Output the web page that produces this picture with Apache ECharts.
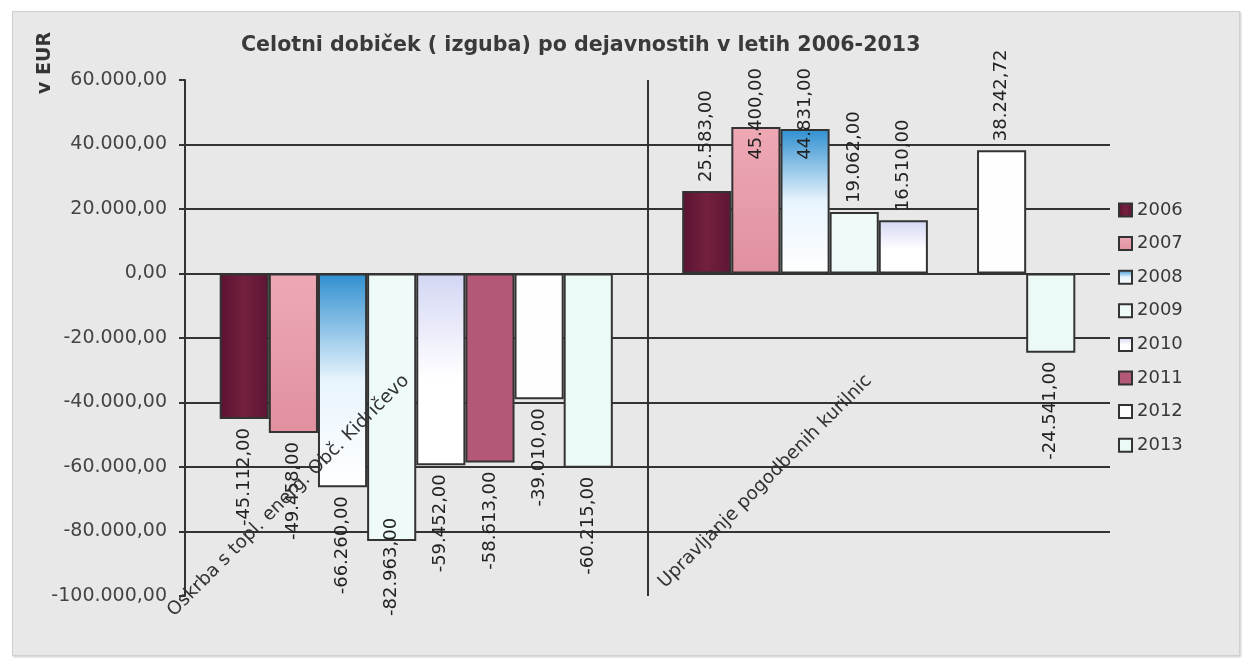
<!DOCTYPE html>
<html><head><meta charset="utf-8">
<script src="https://cdn.jsdelivr.net/npm/echarts@6/dist/echarts.min.js"></script>
<style>
html,body{margin:0;padding:0;background:#fff;}
#wrap{position:relative;width:1250px;height:665px;overflow:hidden;}
#frame{position:absolute;left:12px;top:11px;width:1226px;height:643px;background:#e8e8e8;border:1px solid #d0d0d0;box-shadow:1px 1px 2px #c8c8c8;}
#chart{position:absolute;left:0;top:0;width:1250px;height:665px;}
</style></head><body>
<div id="wrap"><div id="frame"></div><div id="chart"></div></div>
<script>
// ---- data ----
const categories = ['Oskrba s topl. energ. Obč. Kidričevo', 'Upravljanje pogodbenih kurilnic'];
const years = ['2006', '2007', '2008', '2009', '2010', '2011', '2012', '2013'];
const valuesOskrba = [-45112, -49458, -66260, -82963, -59452, -58613, -39010, -60215];
const valuesUpravljanje = [25583, 45400, 44831, 19062, 16510, null, 38242.72, -24541];
const yMin = -100000;
const yMax = 60000;
const yStep = 20000;
const titleText = 'Celotni dobiček ( izguba) po dejavnostih v letih 2006-2013';
const unitText = 'v EUR';

function fmt(v) {
  const neg = v < 0;
  const parts = Math.abs(v).toFixed(2).split('.');
  const ip = parts[0].replace(/\B(?=(\d{3})+(?!\d))/g, '.');
  return (neg ? '-' : '') + ip + ',' + parts[1];
}

const LG = echarts.graphic.LinearGradient;
const yearColors = [
  new LG(0, 0, 1, 0, [{offset: 0, color: '#5a1230'}, {offset: 0.5, color: '#74203f'}, {offset: 1, color: '#5e1534'}]),
  new LG(0, 0, 0, 1, [{offset: 0, color: '#eea9b5'}, {offset: 1, color: '#e0909f'}]),
  new LG(0, 0, 0, 1, [{offset: 0, color: '#2f8fd0'}, {offset: 0.5, color: '#e8f4fd'}, {offset: 1, color: '#ffffff'}]),
  '#eefbf9',
  new LG(0, 0, 0, 1, [{offset: 0, color: '#d3d6f4'}, {offset: 0.55, color: '#ffffff'}, {offset: 1, color: '#ffffff'}]),
  '#b35877',
  '#fefefe',
  '#ebfaf6'
];

const FONT = 'DejaVu Sans';
const allValues = [valuesOskrba, valuesUpravljanje];

function clampLabel(p) {
  const r = p.labelRect;
  if (r.y < 40) return {y: 68 + r.height};
  if (r.y + r.height > 622) return {y: 616 - r.height};
  return {};
}

const series = years.map(function (y, i) {
  return {
    name: y,
    type: 'bar',
    barGap: '0%',
    barCategoryGap: '15%',
    itemStyle: {color: yearColors[i], borderColor: '#333', borderWidth: 2},
    label: {
      show: true, rotate: 90, verticalAlign: 'middle', distance: 9,
      fontSize: 18, color: '#222', fontFamily: FONT,
      formatter: function (p) { return fmt(p.value); }
    },
    labelLayout: clampLabel,
    data: categories.map(function (c, j) {
      const v = allValues[j][i];
      if (v == null) return null;
      return {
        value: v,
        label: v >= 0 ? {position: 'top', align: 'left'} : {position: 'bottom', align: 'right'}
      };
    })
  };
});

const chart = echarts.init(document.getElementById('chart'), null, {renderer: 'canvas'});
chart.setOption({
  animation: false,
  backgroundColor: 'transparent',
  textStyle: {fontFamily: FONT},
  title: {
    text: titleText, left: 236, top: 30,
    textStyle: {fontSize: 20.6, fontWeight: 'bold', color: '#3a3a3a', fontFamily: FONT}
  },
  graphic: [{
    type: 'text', x: 45, y: 94, rotation: Math.PI / 2,
    style: {text: unitText, textAlign: 'left', textVerticalAlign: 'middle', font: 'bold 19px "DejaVu Sans"', fill: '#333'}
  }],
  legend: {
    orient: 'vertical', left: 1113, top: 196,
    itemWidth: 13, itemHeight: 13, itemGap: 15.6,
    icon: 'rect',
    textStyle: {fontSize: 18, color: '#383838', fontFamily: FONT},
    data: years
  },
  grid: {left: 185, right: 140, top: 80, bottom: 69, containLabel: false},
  xAxis: [{
    type: 'category', data: categories, position: 'bottom',
    z: 5,
    axisLine: {show: false, onZero: false},
    offset: -236,
    axisTick: {show: false},
    axisLabel: {show: true, rotate: 45, margin: 8, fontSize: 18.5, color: '#333', fontFamily: FONT, interval: 0, padding: [0, 14, 0, 0]},
    splitLine: {show: true, showMinLine: false, showMaxLine: false, lineStyle: {color: '#333', width: 2}}
  }],
  yAxis: {
    type: 'value', min: yMin, max: yMax, interval: yStep,
    axisLine: {show: true, lineStyle: {color: '#333', width: 2}},
    axisTick: {show: true, length: 6, lineStyle: {color: '#333', width: 2}},
    axisLabel: {margin: 18, fontSize: 19, color: '#444', fontFamily: FONT, formatter: function (v) { return fmt(v); }},
    splitLine: {show: true, showMinLine: false, showMaxLine: false, lineStyle: {color: '#333', width: 2}}
  },
  series: series
});
</script>
</body></html>
